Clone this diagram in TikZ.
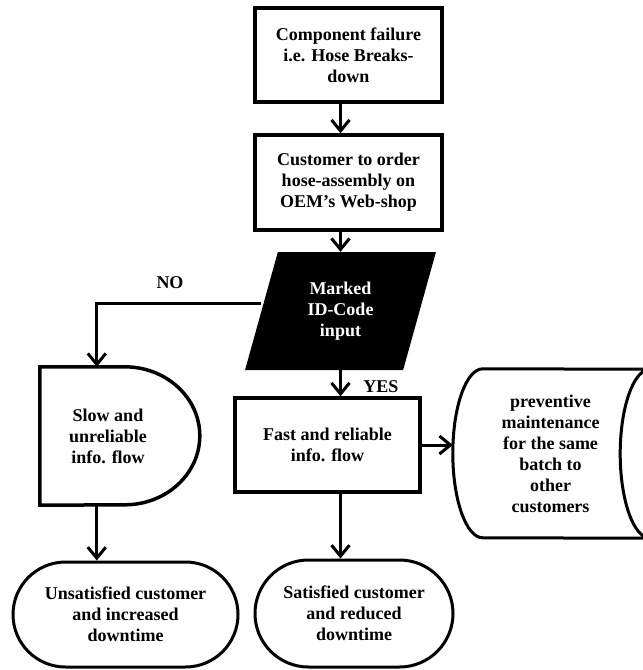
\documentclass[tikz,border=0pt]{standalone}
\usepackage{fontspec}
\setmainfont{Liberation Serif}
\usetikzlibrary{shapes.geometric, shapes.misc, arrows.meta, calc}

\begin{document}
\begin{tikzpicture}[x=1pt, y=1pt,
    txt/.style={font=\bfseries\fontsize{18}{21}\selectfont, align=center, inner sep=0pt},
    stepbox/.style={txt, draw, line width=3.5pt, rectangle},
    endbox/.style={txt, draw, line width=3pt, rounded rectangle},
    arr/.style={line width=3pt, -{Straight Barb[length=11pt, width=18pt, line width=3pt]}}]

% Canvas
\useasboundingbox (0,0) rectangle (643,-670);
\clip (0,0) rectangle (643,-670);
\fill[white] (0,0) rectangle (643,-670);

% Top boxes
\node[stepbox, minimum width=187, minimum height=94] (fail) at (348.5,-55)
    {Component failure\\i.e. Hose Breaks-\\down};
\node[stepbox, minimum width=187, minimum height=95] (order) at (348.5,-182.5)
    {Customer to order\\hose-assembly on\\OEM’s Web-shop};

% Input (black parallelogram)
\node[txt, trapezium, trapezium left angle=73.5, trapezium right angle=106.5,
    trapezium stretches=true, minimum width=192, minimum height=118,
    fill=black, text=white] (code) at (340.5,-311)
    {Marked\\ID-Code\\input};

% Delay shape: slow flow
\node[minimum width=160, minimum height=138, inner sep=0pt] (slow) at (120,-436) {};
\draw[line width=3.5pt] (slow.north west) -- ++(85,0)
    arc[start angle=90, end angle=-90, x radius=75, y radius=69]
    -- (slow.south west) -- cycle;
\node[txt] (slowtxt) at ([xshift=-12]slow.center) {Slow and\\unreliable\\info. flow};

% Fast flow
\node[stepbox, minimum width=185, minimum height=94] (fast) at (327.5,-445)
    {Fast and reliable\\info. flow};

% Stored data shape: preventive maintenance
\node[minimum width=167, minimum height=169, inner sep=0pt] (store) at (566.5,-453.5) {};
\draw[line width=3pt] (store.north west)
    arc[start angle=90, end angle=270, x radius=30, y radius=84.5]
    -- (store.south east)
    arc[start angle=270, end angle=90, x radius=30, y radius=84.5]
    -- cycle;
\node[txt] (storetxt) at ([xshift=-16]store.center)
    {preventive\\maintenance\\for the same\\batch to\\other\\customers};

% Terminators
\node[endbox, minimum width=225, minimum height=105] (unsat) at (125.5,-614.5)
    {Unsatisfied customer\\and increased\\downtime};
\node[endbox, minimum width=198, minimum height=107] (sat) at (354,-613.5)
    {Satisfied customer\\and reduced\\downtime};

% Helper coordinates
\coordinate (noX) at ([xshift=57]slow.north west);
\coordinate (storeL) at ([xshift=-30]store.west);

% Connectors
\draw[arr] (fail.south -| code.center) -- (order.north -| code.center);
\draw[arr] (order.south -| code.center) -- (code.north -| code.center);
\draw[arr] ([yshift=8]code.west) -| (noX);
\draw[arr] (code.south -| code.center) -- (fast.north -| code.center);
\draw[arr] (fast.east) -- (fast.east -| storeL);
\draw[arr] (noX |- slow.south) -- (noX |- unsat.north);
\draw[arr] (fast.south -| code.center) -- (sat.north -| code.center);

% Labels
\node[txt] (nolbl) at (170,-283) {NO};
\node[txt] (yeslbl) at (381,-387) {YES};

\end{tikzpicture}
\end{document}
